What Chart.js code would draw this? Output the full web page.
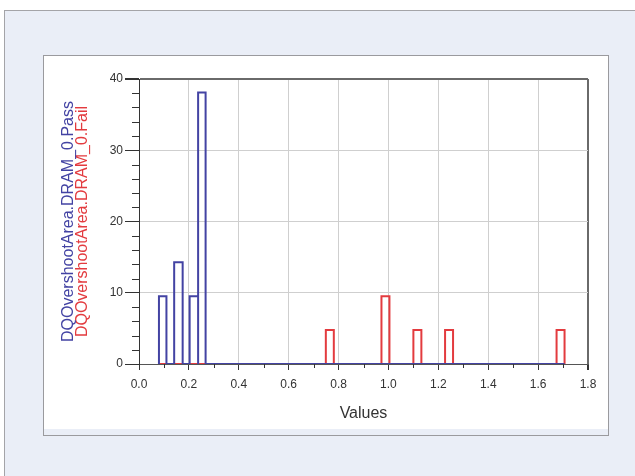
<!DOCTYPE html>
<html>
<head>
<meta charset="utf-8">
<script src="https://cdn.jsdelivr.net/npm/chart.js@4/dist/chart.umd.min.js"></script>
<style>
  html, body { margin: 0; padding: 0; background: #ffffff; width: 635px; height: 476px; overflow: hidden; }
  #outer { position: absolute; left: 4px; top: 10px; width: 640px; height: 480px; background: #eaeef7; border-left: 1px solid #a4a4a8; border-top: 1px solid #a4a4a8; }
  #panel { position: absolute; left: 43px; top: 55px; width: 564px; height: 379px; background: #eaeef7; border: 1px solid #9a9a9e; }
  #wrap { position: absolute; left: 0; top: 0; width: 564px; height: 373px; background: #ffffff; }
</style>
</head>
<body>
<div id="outer"></div>
<div id="panel"><div id="wrap"><canvas id="c" width="564" height="373"></canvas></div></div>
<script>
// ---- data (percent of samples per bin) ----
const passBinStart = [0.080, 0.141, 0.203, 0.237];
const passBinEnd   = [0.110, 0.175, 0.237, 0.267];
const passHeights  = [9.52, 14.29, 9.52, 38.10];
const passRange    = [0.080, 1.706];

const failBinStart = [0.749, 0.972, 1.100, 1.227, 1.674];
const failBinEnd   = [0.781, 1.004, 1.132, 1.259, 1.706];
const failHeights  = [4.76, 9.52, 4.76, 4.76, 4.76];
const failRange    = [0.080, 1.706];

const xTickLabels = ['0.0','0.2','0.4','0.6','0.8','1.0','1.2','1.4','1.6','1.8'];
const yTickLabels = ['0','10','20','30','40'];

const passLabel = 'DQOvershootArea.DRAM_0.Pass';
const failLabel = 'DQOvershootArea.DRAM_0.Fail';
const xTitle = 'Values';

// build histogram outline points from the bins
function outline(starts, ends, heights, range) {
  const pts = [{x: range[0], y: 0}];
  for (let i = 0; i < starts.length; i++) {
    pts.push({x: starts[i], y: 0});
    pts.push({x: starts[i], y: heights[i]});
    pts.push({x: ends[i], y: heights[i]});
    pts.push({x: ends[i], y: 0});
  }
  pts.push({x: range[1], y: 0});
  return pts;
}

const BLUE = '#4343a3';
const RED = '#e33b3f';
const FONT = "'Liberation Sans', Arial, sans-serif";

const minorTicks = {
  id: 'minorTicks',
  afterDraw(chart) {
    const {ctx, scales: {x, y}} = chart;
    ctx.save();
    ctx.strokeStyle = '#333333';
    ctx.lineWidth = 1;
    ctx.beginPath();
    for (let v = 2; v < 40; v += 2) {
      if (v % 10 === 0) continue;
      const py = Math.round(y.getPixelForValue(v)) + 0.5;
      ctx.moveTo(x.left - 7, py); ctx.lineTo(x.left, py);
    }
    for (let k = 1; k < 18; k += 2) {
      const px = Math.round(x.getPixelForValue(k / 10)) + 0.5;
      ctx.moveTo(px, y.bottom); ctx.lineTo(px, y.bottom + 4);
    }
    ctx.stroke();
    ctx.restore();
  }
};

new Chart(document.getElementById('c'), {
  type: 'line',
  data: {
    datasets: [
      { label: passLabel, data: outline(passBinStart, passBinEnd, passHeights, passRange),
        borderColor: BLUE, borderWidth: 2, pointRadius: 0, tension: 0, fill: false, yAxisID: 'y' },
      { label: failLabel, data: outline(failBinStart, failBinEnd, failHeights, failRange),
        borderColor: RED, borderWidth: 2, pointRadius: 0, tension: 0, fill: false, yAxisID: 'y' }
    ]
  },
  options: {
    responsive: false,
    animation: false,
    events: [],
    layout: { padding: { left: 0, right: 20, top: 23, bottom: 0 } },
    plugins: { legend: { display: false }, tooltip: { enabled: false } },
    scales: {
      x: {
        type: 'linear', min: 0, max: 1.8,
        afterBuildTicks(s) { s.ticks = xTickLabels.map(t => ({value: parseFloat(t)})); },
        afterFit(s) { s.height = 65; },
        ticks: { callback: (v, i) => xTickLabels[i], color: '#333333', padding: 7,
                 font: { family: FONT, size: 12 }, maxRotation: 0, autoSkip: false },
        grid: {
          color: ctx => (ctx.tick && Math.abs(ctx.tick.value - 1.8) < 1e-6) ? '#6a6a6a' : '#cfcfcf',
          lineWidth: ctx => (ctx.tick && Math.abs(ctx.tick.value - 1.8) < 1e-6) ? 2 : 1,
          tickColor: '#333333', tickLength: 6, drawTicks: true
        },
        border: { display: true, color: '#555555', width: 1 },
        title: { display: true, text: xTitle, color: '#333333',
                 font: { family: FONT, size: 16 }, padding: { top: 0, bottom: 6 } }
      },
      y: {
        type: 'linear', min: 0, max: 40, weight: 0,
        afterBuildTicks(s) { s.ticks = yTickLabels.map(t => ({value: parseFloat(t)})); },
        afterFit(s) { s.width = 65; },
        ticks: { callback: (v, i) => yTickLabels[i], color: '#333333', padding: 2,
                 font: { family: FONT, size: 12 } },
        grid: {
          color: ctx => (ctx.tick && ctx.tick.value === 40) ? '#6a6a6a' : '#cfcfcf',
          lineWidth: ctx => (ctx.tick && ctx.tick.value === 40) ? 2 : 1,
          tickColor: '#333333', tickLength: 14
        },
        border: { display: true, color: '#333333', width: 1 },
        title: { display: true, text: failLabel, color: RED, align: 'center',
                 font: { family: FONT, size: 16, lineHeight: 0.75 }, padding: { top: 3, bottom: 0 } }
      },
      yPassTitle: {
        type: 'linear', position: 'left', min: 0, max: 40, weight: 1,
        afterFit(s) { s.width = 30; },
        ticks: { display: false },
        grid: { display: false, drawTicks: false },
        border: { display: false },
        title: { display: true, text: passLabel, color: BLUE, align: 'center',
                 font: { family: FONT, size: 16, lineHeight: 0.75 }, padding: { top: 19, bottom: 0 } }
      }
    }
  },
  plugins: [minorTicks]
});
</script>
</body>
</html>
